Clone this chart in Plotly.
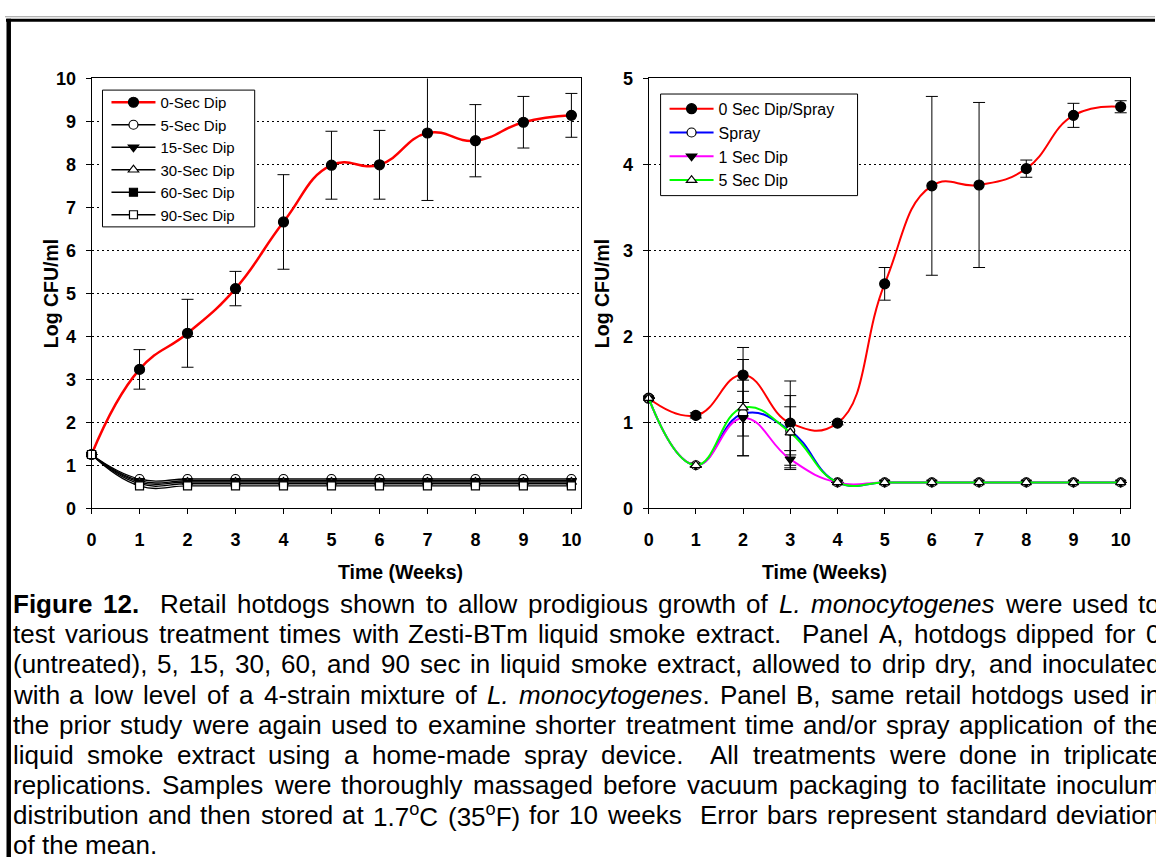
import re
import plotly.graph_objects as go

W, H = 1156, 867

# ---------------- data ----------------
weeks = [0, 1, 2, 3, 4, 5, 6, 7, 8, 9, 10]
tick_x = [0, 1, 2, 3, 4, 5, 6, 7, 8, 9, 10]
tick_ya = [0, 1, 2, 3, 4, 5, 6, 7, 8, 9, 10]
tick_yb = [0, 1, 2, 3, 4, 5]

# Panel A: dip times (log CFU/ml)
dip0 = [1.25, 3.23, 4.07, 5.11, 6.66, 7.98, 7.99, 8.73, 8.55, 8.98, 9.14]
dip0_sd = [0.00, 0.46, 0.79, 0.40, 1.10, 0.79, 0.80, 1.57, 0.84, 0.60, 0.51]
dip5 = [1.25, 0.68, 0.68, 0.68, 0.68, 0.68, 0.68, 0.68, 0.68, 0.68, 0.68]
dip15 = [1.25, 0.64, 0.64, 0.64, 0.64, 0.64, 0.64, 0.64, 0.64, 0.64, 0.64]
dip30 = [1.25, 0.61, 0.61, 0.61, 0.61, 0.61, 0.61, 0.61, 0.61, 0.61, 0.61]
dip60 = [1.25, 0.57, 0.57, 0.57, 0.57, 0.57, 0.57, 0.57, 0.57, 0.57, 0.57]
dip90 = [1.25, 0.52, 0.52, 0.52, 0.52, 0.52, 0.52, 0.52, 0.52, 0.52, 0.52]

# Panel B: short dips / spray (log CFU/ml)
b_dip0 = [1.28, 1.08, 1.55, 0.99, 0.99, 2.61, 3.75, 3.76, 3.95, 4.57, 4.67]
b_dip0_sd = [0.00, 0.03, 0.32, 0.49, 0.02, 0.19, 1.04, 0.96, 0.10, 0.14, 0.07]
b_spray = [1.28, 0.50, 1.10, 0.90, 0.30, 0.30, 0.30, 0.30, 0.30, 0.30, 0.30]
b_spray_sd = [0.00, 0.02, 0.26, 0.28, 0.00, 0.00, 0.00, 0.00, 0.00, 0.00, 0.00]
b_dip1 = [1.28, 0.50, 1.05, 0.57, 0.30, 0.30, 0.30, 0.30, 0.30, 0.30, 0.30]
b_dip1_sd = [0.00, 0.02, 0.44, 0.10, 0.00, 0.00, 0.00, 0.00, 0.00, 0.00, 0.00]
b_dip5 = [1.28, 0.50, 1.17, 0.88, 0.30, 0.30, 0.30, 0.30, 0.30, 0.30, 0.30]
b_dip5_sd = [0.00, 0.02, 0.56, 0.43, 0.00, 0.00, 0.00, 0.00, 0.00, 0.00, 0.00]

caption_lines = [
    "<b>Figure</b> <b>12.</b>  Retail hotdogs shown to allow prodigious growth of <i>L.</i> <i>monocytogenes</i> were used to",
    "test various treatment times with Zesti-BTm liquid smoke extract.  Panel A, hotdogs dipped for 0",
    "(untreated), 5, 15, 30, 60, and 90 sec in liquid smoke extract, allowed to drip dry, and inoculated",
    "with a low level of a 4-strain mixture of <i>L.</i> <i>monocytogenes</i>. Panel B, same retail hotdogs used in",
    "the prior study were again used to examine shorter treatment time and/or spray application of the",
    "liquid smoke extract using a home-made spray device.  All treatments were done in triplicate",
    "replications. Samples were thoroughly massaged before vacuum packaging to facilitate inoculum",
    "distribution and then stored at 1.7<sup>o</sup>C (35<sup>o</sup>F) for 10 weeks  Error bars represent standard deviation",
    "of the mean.",
]

FONT = "Liberation Sans, Arial, sans-serif"

# ---------------- layout geometry (pixels) ----------------
A_X0, A_X1 = 87, 579
B_X0, B_X1 = 647, 1131
P_Y0, P_Y1 = 70, 510
SMOOTH = 1.3
LEG_A = (98, 251, 82, 222)     # left, right, top, bottom
LEG_B = (659, 857, 86, 190)


def px_x(p):
    return p / W


def px_y(p):
    return 1 - p / H


fig = go.Figure()

# ---------- Panel A ----------
fig.add_trace(go.Scatter(
    x=weeks, y=dip0, mode="markers", xaxis="x", yaxis="y",
    marker=dict(size=1, color="rgba(0,0,0,0)"), showlegend=False, hoverinfo="skip",
    error_y=dict(type="data", array=dip0_sd, visible=True, color="black",
                 thickness=1, width=6),
    cliponaxis=True,
))

a_series = [
    ("0-Sec Dip", dip0, "#ff0000", 2.5, "circle", "black", 10),
    ("5-Sec Dip", dip5, "black", 1.3, "circle", "white", 9),
    ("15-Sec Dip", dip15, "black", 1.3, "triangle-down", "black", 9),
    ("30-Sec Dip", dip30, "black", 1.3, "triangle-up", "white", 9),
    ("60-Sec Dip", dip60, "black", 1.3, "square", "black", 8),
    ("90-Sec Dip", dip90, "black", 1.3, "square", "white", 8),
]
for name, vals, lc, lw, sym, fill, ms in a_series:
    fig.add_trace(go.Scatter(
        x=weeks, y=vals, name=name, mode="lines+markers", xaxis="x", yaxis="y",
        line=dict(color=lc, width=lw, shape="spline", smoothing=SMOOTH),
        marker=dict(symbol=sym, size=ms, color=fill, line=dict(color="black", width=1.2)),
        cliponaxis=False, legend="legend",
    ))

# ---------- Panel B ----------
b_series = [
    ("0 Sec Dip/Spray", b_dip0, b_dip0_sd, "#ff0000", "circle", "black", 10),
    ("Spray", b_spray, b_spray_sd, "#0000ff", "circle", "white", 9),
    ("1 Sec Dip", b_dip1, b_dip1_sd, "#ff00ff", "triangle-down", "black", 9),
    ("5 Sec Dip", b_dip5, b_dip5_sd, "#00ff00", "triangle-up", "white", 9),
]
for name, vals, sd, lc, sym, fill, ms in b_series:
    fig.add_trace(go.Scatter(
        x=weeks, y=vals, mode="markers", xaxis="x2", yaxis="y2",
        marker=dict(size=1, color="rgba(0,0,0,0)"), showlegend=False, hoverinfo="skip",
        error_y=dict(type="data", array=sd, visible=True, color="black",
                     thickness=1, width=6),
        cliponaxis=True,
    ))
for name, vals, sd, lc, sym, fill, ms in b_series:
    fig.add_trace(go.Scatter(
        x=weeks, y=vals, name=name, mode="lines+markers", xaxis="x2", yaxis="y2",
        line=dict(color=lc, width=2, shape="spline", smoothing=SMOOTH),
        marker=dict(symbol=sym, size=ms, color=fill, line=dict(color="black", width=1.2)),
        cliponaxis=False, legend="legend2",
    ))

# ---------- axes ----------
tickfont = dict(family=FONT, size=18, color="black", weight="bold")
common = dict(showline=True, linecolor="black", linewidth=1, mirror=True,
              ticks="outside", ticklen=5, tickcolor="black", tickwidth=1,
              zeroline=False, tickfont=tickfont)
xcommon = dict(common, range=[0, 10.2], tickmode="array", tickvals=tick_x,
               ticktext=[str(v) for v in tick_x], showgrid=False, ticklabelstandoff=10)
ycommon = dict(common, showgrid=True, gridcolor="black", gridwidth=1,
               griddash="2px,3px", ticklabelstandoff=6)

legend_common = dict(xanchor="left", yanchor="middle", bgcolor="rgba(0,0,0,0)",
                     borderwidth=0, itemwidth=44, tracegroupgap=0)

ydom = [px_y(P_Y1), px_y(P_Y0)]
fig.update_layout(
    width=W, height=H,
    margin=dict(l=0, r=0, t=0, b=0),
    paper_bgcolor="white", plot_bgcolor="white",
    font=dict(family=FONT, color="black"),
    xaxis=dict(xcommon, domain=[px_x(A_X0), px_x(A_X1)], anchor="y"),
    yaxis=dict(ycommon, domain=ydom, anchor="x", range=[0, 10],
               tickmode="array", tickvals=tick_ya, ticktext=[str(v) for v in tick_ya]),
    xaxis2=dict(xcommon, domain=[px_x(B_X0), px_x(B_X1)], anchor="y2"),
    yaxis2=dict(ycommon, domain=ydom, anchor="x2", range=[0, 5],
                tickmode="array", tickvals=tick_yb, ticktext=[str(v) for v in tick_yb]),
    legend=dict(legend_common, x=px_x(LEG_A[0] + 4), y=px_y((LEG_A[2] + LEG_A[3]) / 2),
                font=dict(family=FONT, size=15, color="black")),
    legend2=dict(legend_common, x=px_x(LEG_B[0] + 4), y=px_y((LEG_B[2] + LEG_B[3]) / 2),
                 font=dict(family=FONT, size=16, color="black")),
    showlegend=True,
)

# legend frames
for l, r, t, b in (LEG_A, LEG_B):
    fig.add_shape(type="rect", xref="paper", yref="paper",
                  x0=px_x(l), x1=px_x(r), y0=px_y(b), y1=px_y(t),
                  line=dict(color="black", width=1), fillcolor="white", layer="above")

# ---------- axis titles ----------
title_font = dict(family=FONT, size=19.5, color="black", weight="bold")
for xc in (33, 600):
    fig.add_annotation(x=px_x(xc), y=px_y((P_Y0 + P_Y1) / 2), xref="paper", yref="paper",
                       text="Log CFU/ml", textangle=-90, showarrow=False, font=title_font)
for xc in ((A_X0 + A_X1) / 2, (B_X0 + B_X1) / 2):
    fig.add_annotation(x=px_x(xc), y=px_y(575), xref="paper", yref="paper",
                       text="Time (Weeks)", showarrow=False, font=title_font)

# ---------- page border ----------
fig.add_shape(type="rect", xref="paper", yref="paper", x0=0, x1=1,
              y0=px_y(7.5), y1=px_y(6.5), line_width=0, fillcolor="#9a9a9a")
fig.add_shape(type="rect", xref="paper", yref="paper", x0=px_x(1), x1=1,
              y0=px_y(12), y1=px_y(9), line_width=0, fillcolor="black")
fig.add_shape(type="rect", xref="paper", yref="paper", x0=px_x(1.5), x1=px_x(6),
              y0=0, y1=px_y(9), line_width=0, fillcolor="black")

# ---------- justified caption ----------
# Arial / Helvetica advance widths (1/1000 em)
REG = {' ': 278, '!': 278, '(': 333, ')': 333, ',': 278, '-': 333, '.': 278, '/': 278,
       ':': 278, ';': 278, '?': 556, '%': 889, '&': 667}
for d in "0123456789":
    REG[d] = 556
REG.update(dict(zip("ABCDEFGHIJKLMNOPQRSTUVWXYZ",
                    [667, 667, 722, 722, 667, 611, 778, 722, 278, 500, 667, 556, 833,
                     722, 778, 667, 778, 722, 667, 611, 722, 667, 944, 667, 667, 611])))
REG.update(dict(zip("abcdefghijklmnopqrstuvwxyz",
                    [556, 556, 500, 556, 556, 278, 556, 556, 222, 222, 500, 222, 833,
                     556, 556, 556, 556, 333, 500, 278, 556, 500, 722, 500, 500, 500])))
BOLD = dict(REG)
BOLD.update(dict(zip("abcdefghijklmnopqrstuvwxyz",
                     [556, 611, 556, 611, 556, 333, 611, 611, 278, 278, 556, 278, 889,
                      611, 611, 611, 611, 389, 556, 333, 611, 556, 778, 556, 556, 500])))
BOLD.update({'A': 722, 'B': 722, 'L': 611, 'R': 722})


def text_width(markup, size):
    bold = sup = False
    total = 0.0
    for tag, chars in re.findall(r"(<[^>]+>)|([^<]+)", markup):
        if tag:
            name = tag.strip("<>/").lower()
            on = not tag.startswith("</")
            if name == "b":
                bold = on
            elif name == "sup":
                sup = on
            continue
        for ch in chars:
            w = (BOLD if bold else REG).get(ch, 556)
            total += w * (0.7 if sup else 1.0)
    return total * size / 1000.0


CAP_SIZE = 26
CAP_LEFT, CAP_RIGHT = 8, 1161
CAP_TOP, CAP_STEP = 608, 30.9
space_w = REG[' '] * CAP_SIZE / 1000.0
for i, line in enumerate(caption_lines):
    parts = [p for p in re.split(r"( +)", line) if p != ""]
    words = [p for p in parts if not p.startswith(" ")]
    n_sp = sum(len(p) for p in parts if p.startswith(" "))
    natural = sum(text_width(w, CAP_SIZE) for w in words) + n_sp * space_w
    last = i == len(caption_lines) - 1
    extra = 0.0 if (last or n_sp == 0) else (CAP_RIGHT - CAP_LEFT - natural) / n_sp
    xpos = CAP_LEFT
    ypix = CAP_TOP + i * CAP_STEP
    for p in parts:
        if p.startswith(" "):
            xpos += len(p) * (space_w + extra)
            continue
        fig.add_annotation(x=px_x(xpos), y=px_y(ypix), xref="paper", yref="paper",
                           xanchor="left", yanchor="middle", text=p, showarrow=False,
                           borderpad=0, borderwidth=0,
                           font=dict(family=FONT, size=CAP_SIZE, color="black"))
        xpos += text_width(p, CAP_SIZE)

fig.write_html("out.html")
